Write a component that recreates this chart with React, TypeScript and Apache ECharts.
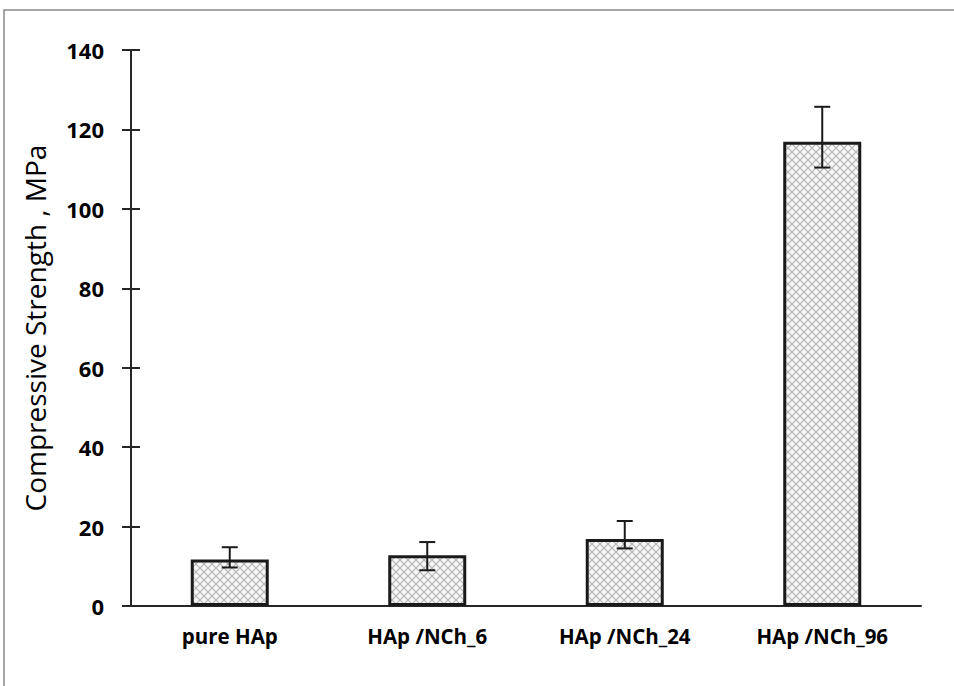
import React, { useEffect, useRef } from "react";
import * as echarts from "echarts";

const categories = ["pure HAp", "HAp /NCh_6", "HAp /NCh_24", "HAp /NCh_96"];
const strength = [11.7, 12.8, 16.9, 116.9];
const errLow = [9.7, 9.0, 14.5, 110.4];
const errHigh = [14.8, 16.1, 21.4, 125.7];
const yTicks = { min: 0, max: 140, interval: 20 };

function makePattern(): string {
  const c = document.createElement("canvas");
  c.width = 8;
  c.height = 8;
  const ctx = c.getContext("2d")!;
  ctx.fillStyle = "#f6f6f6";
  ctx.fillRect(0, 0, 8, 8);
  ctx.strokeStyle = "#b4b4b4";
  ctx.lineWidth = 1.2;
  ctx.beginPath();
  ctx.moveTo(0, 0);
  ctx.lineTo(8, 8);
  ctx.moveTo(8, 0);
  ctx.lineTo(0, 8);
  ctx.stroke();
  return c.toDataURL();
}

export default function App() {
  const ref = useRef<HTMLDivElement>(null);
  useEffect(() => {
    if (!ref.current) return;
    const chart = echarts.init(ref.current, undefined, { renderer: "svg" });
    const pattern = makePattern();
    const errData = categories.map((_, i) => [i, errLow[i], errHigh[i]]);
    const axisColor = "#262626";
    chart.setOption({
      animation: false,
      backgroundColor: "#ffffff",
      grid: { left: 131, right: 33, top: 50, bottom: 80, containLabel: false },
      graphic: [
        {
          type: "rect",
          shape: { x: 4, y: 10, width: 1200, height: 1200 },
          style: { fill: "none", stroke: "#8a8a8a", lineWidth: 1.5 },
          silent: true,
        },
      ],
      xAxis: {
        type: "category",
        data: categories,
        axisLine: { lineStyle: { color: axisColor, width: 2 } },
        axisTick: { show: false },
        axisLabel: {
          margin: 19,
          color: "#000",
          fontFamily: "Open Sans",
          fontWeight: "bold",
          fontSize: 20.5,
        },
      },
      yAxis: [
        {
          type: "value",
          min: yTicks.min,
          max: yTicks.max,
          interval: yTicks.interval,
          name: "Compressive Strength , MPa",
          nameLocation: "middle",
          nameGap: 82,
          nameTextStyle: { fontFamily: "Open Sans", fontSize: 28, color: "#000" },
          splitLine: { show: false },
          axisLine: { show: true, lineStyle: { color: axisColor, width: 2 } },
          axisTick: { show: true, length: 9, lineStyle: { color: axisColor, width: 2 } },
          axisLabel: {
            margin: 27,
            color: "#000",
            fontFamily: "Open Sans",
            fontWeight: "bold",
            fontSize: 22,
          },
        },
        {
          type: "value",
          min: yTicks.min,
          max: yTicks.max,
          interval: yTicks.interval,
          position: "left",
          splitLine: { show: false },
          axisLine: { show: false },
          axisTick: { show: true, inside: true, length: 9, lineStyle: { color: axisColor, width: 2 } },
          axisLabel: { show: false },
        },
      ],
      series: [
        {
          type: "bar",
          data: strength,
          barWidth: "39.5%",
          itemStyle: {
            color: { image: pattern, repeat: "repeat" },
            borderColor: "#1a1a1a",
            borderWidth: 3,
          },
        },
        {
          type: "custom",
          data: errData,
          z: 5,
          renderItem: (params: any, api: any) => {
            const x = api.value(0);
            const lo = api.coord([x, api.value(1)]);
            const hi = api.coord([x, api.value(2)]);
            const half = 8;
            const style = { stroke: "#1a1a1a", lineWidth: 2 };
            return {
              type: "group",
              children: [
                { type: "line", shape: { x1: hi[0], y1: hi[1], x2: lo[0], y2: lo[1] }, style },
                { type: "line", shape: { x1: hi[0] - half, y1: hi[1], x2: hi[0] + half, y2: hi[1] }, style },
                { type: "line", shape: { x1: lo[0] - half, y1: lo[1], x2: lo[0] + half, y2: lo[1] }, style },
              ],
            };
          },
        },
      ],
    });
    return () => chart.dispose();
  }, []);
  return (
    <div
      ref={ref}
      style={{ position: "fixed", left: 0, top: 0, width: 954, height: 686 }}
    />
  );
}
